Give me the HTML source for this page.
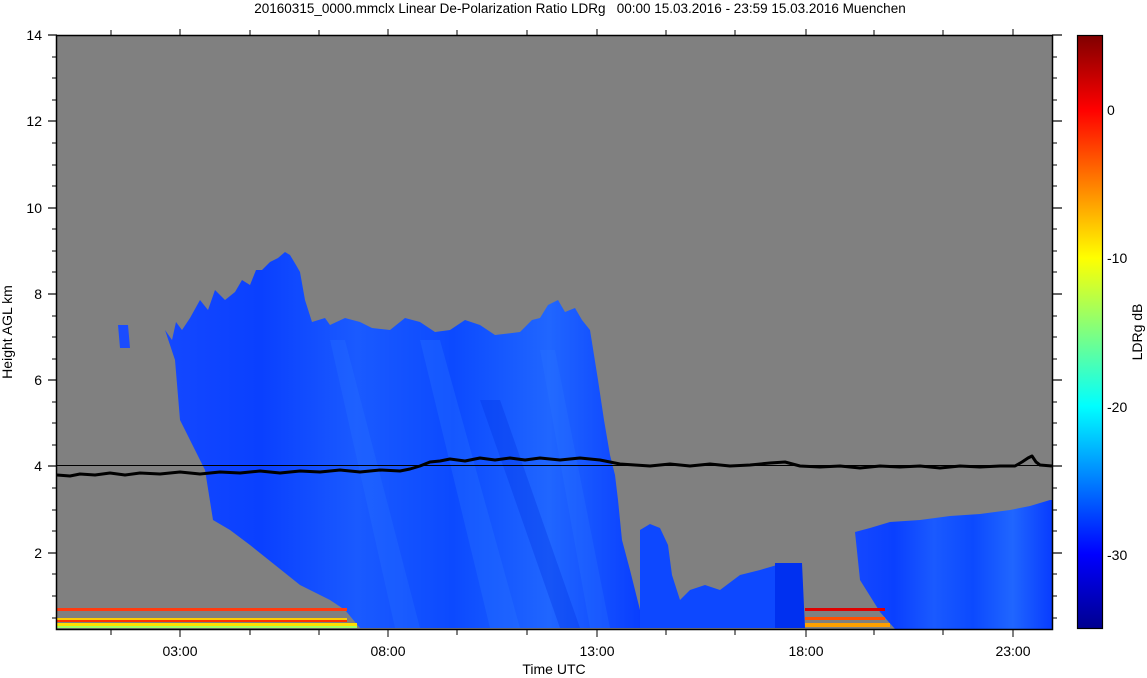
<!DOCTYPE html>
<html><head><meta charset="utf-8"><style>
html,body{margin:0;padding:0;background:#fff;}
svg{display:block;font-family:"Liberation Sans",sans-serif;}
</style></head><body>
<svg width="1147" height="678" viewBox="0 0 1147 678" xmlns="http://www.w3.org/2000/svg">
<defs>
<linearGradient id="jet" x1="0" y1="1" x2="0" y2="0">
<stop offset="0" stop-color="#00008f"/>
<stop offset="0.125" stop-color="#0000ff"/>
<stop offset="0.375" stop-color="#00ffff"/>
<stop offset="0.625" stop-color="#ffff00"/>
<stop offset="0.875" stop-color="#ff0000"/>
<stop offset="1" stop-color="#800000"/>
</linearGradient>
<linearGradient id="blu" x1="0" y1="0" x2="1" y2="0">
<stop offset="0" stop-color="#1448ff"/>
<stop offset="0.2" stop-color="#0a40ff"/>
<stop offset="0.4" stop-color="#1a5aff"/>
<stop offset="0.6" stop-color="#0c4aff"/>
<stop offset="0.8" stop-color="#2066ff"/>
<stop offset="1" stop-color="#083cff"/>
</linearGradient>
</defs>
<text x="580" y="13" font-size="13.5" text-anchor="middle" xml:space="preserve">20160315_0000.mmclx Linear De-Polarization Ratio LDRg   00:00 15.03.2016 - 23:59 15.03.2016 Muenchen</text>
<rect x="57" y="36" width="995" height="593" fill="#808080"/>
<polygon fill="url(#blu)" points="165,330 172,340 176,322 182,330 190,318 200,300 208,310 215,290 225,300 235,292 242,280 250,285 256,270 262,270 270,262 278,258 285,252 290,255 296,265 300,272 305,300 312,322 325,318 330,325 345,318 360,322 372,328 390,330 405,318 420,322 435,332 450,330 465,320 480,325 495,335 520,332 532,320 540,318 548,305 558,300 565,312 575,308 582,320 590,330 598,380 604,420 610,455 615,475 618,500 622,540 630,570 640,610 645,628 360,628 345,610 330,600 300,585 275,565 250,545 230,530 213,520 205,470 190,440 180,420 175,360"/>
<polygon fill="#2a78ff" opacity="0.3" points="420,340 440,340 520,628 490,628"/>
<polygon fill="#2a78ff" opacity="0.25" points="330,340 345,340 420,628 395,628"/>
<polygon fill="#0030e0" opacity="0.3" points="480,400 500,400 580,628 560,628"/>
<polygon fill="#2a78ff" opacity="0.25" points="540,350 555,350 610,628 590,628"/>
<polygon fill="#1a4cff" points="118,325 128,325 130,348 120,348"/>
<polygon fill="#0d48ff" points="640,530 650,524 660,528 668,545 672,575 680,600 690,590 705,585 720,590 740,575 760,570 777,565 800,565 802,628 640,628"/>
<polygon fill="#0030f0" points="775,563 802,563 805,628 775,628"/>
<polygon fill="url(#blu)" points="855,532 870,528 890,522 920,520 950,516 980,514 1010,510 1030,506 1050,500 1052,500 1052,629 895,629 880,612 860,580"/>
<rect x="57" y="608" width="290" height="3" fill="#ff3a10"/>
<rect x="57" y="618" width="290" height="4" fill="#ffcc00"/>
<rect x="57" y="620" width="290" height="2" fill="#ff3000"/>
<rect x="57" y="623" width="300" height="3" fill="#ffe000"/>
<rect x="57" y="626" width="300" height="2" fill="#a0ff60"/>
<rect x="805" y="608" width="80" height="3" fill="#e00000"/>
<rect x="805" y="617" width="80" height="3" fill="#ff5000"/>
<rect x="805" y="623" width="85" height="4" fill="#ffa000"/>
<line x1="57" y1="465.5" x2="1052" y2="465.5" stroke="#000" stroke-width="1"/>
<polyline fill="none" stroke="#000" stroke-width="3" stroke-linejoin="round" points="57,475 70,476 80,474 95,475 110,473 125,475 140,473 160,474 180,472 200,474 220,472 240,473 260,471 280,473 300,471 320,472 340,470 360,472 380,470 400,471 410,469 420,466 430,462 440,461 450,459 465,461 480,458 495,460 510,458 525,460 540,458 560,460 580,458 600,460 610,462 620,464 635,465 650,466 670,464 690,466 710,464 730,466 750,465 770,463 785,462 800,466 820,467 840,466 860,468 880,466 900,467 920,466 940,468 960,466 980,467 1000,466 1015,466 1022,462 1028,458 1032,456 1036,462 1040,465 1052,466"/>
<rect x="56.5" y="35.5" width="996" height="594" fill="none" stroke="#000" stroke-width="1.5"/>
<g stroke="#000" stroke-width="1.2">
<line x1="48" y1="35" x2="57" y2="35"/><line x1="48" y1="121" x2="57" y2="121"/><line x1="48" y1="208" x2="57" y2="208"/><line x1="48" y1="294" x2="57" y2="294"/><line x1="48" y1="380" x2="57" y2="380"/><line x1="48" y1="466" x2="57" y2="466"/><line x1="48" y1="553" x2="57" y2="553"/>
<line x1="1052" y1="35" x2="1062" y2="35"/><line x1="1052" y1="121" x2="1062" y2="121"/><line x1="1052" y1="208" x2="1062" y2="208"/><line x1="1052" y1="294" x2="1062" y2="294"/><line x1="1052" y1="380" x2="1062" y2="380"/><line x1="1052" y1="466" x2="1062" y2="466"/><line x1="1052" y1="553" x2="1062" y2="553"/>
</g>
<g stroke="#000" stroke-width="1">
<line x1="52" y1="57" x2="57" y2="57"/><line x1="52" y1="78" x2="57" y2="78"/><line x1="52" y1="100" x2="57" y2="100"/><line x1="52" y1="143" x2="57" y2="143"/><line x1="52" y1="165" x2="57" y2="165"/><line x1="52" y1="186" x2="57" y2="186"/><line x1="52" y1="229" x2="57" y2="229"/><line x1="52" y1="251" x2="57" y2="251"/><line x1="52" y1="272" x2="57" y2="272"/><line x1="52" y1="316" x2="57" y2="316"/><line x1="52" y1="337" x2="57" y2="337"/><line x1="52" y1="359" x2="57" y2="359"/><line x1="52" y1="402" x2="57" y2="402"/><line x1="52" y1="423" x2="57" y2="423"/><line x1="52" y1="445" x2="57" y2="445"/><line x1="52" y1="488" x2="57" y2="488"/><line x1="52" y1="510" x2="57" y2="510"/><line x1="52" y1="531" x2="57" y2="531"/><line x1="52" y1="574" x2="57" y2="574"/><line x1="52" y1="596" x2="57" y2="596"/><line x1="52" y1="618" x2="57" y2="618"/>
<line x1="1052" y1="57" x2="1057" y2="57"/><line x1="1052" y1="78" x2="1057" y2="78"/><line x1="1052" y1="100" x2="1057" y2="100"/><line x1="1052" y1="143" x2="1057" y2="143"/><line x1="1052" y1="165" x2="1057" y2="165"/><line x1="1052" y1="186" x2="1057" y2="186"/><line x1="1052" y1="229" x2="1057" y2="229"/><line x1="1052" y1="251" x2="1057" y2="251"/><line x1="1052" y1="272" x2="1057" y2="272"/><line x1="1052" y1="316" x2="1057" y2="316"/><line x1="1052" y1="337" x2="1057" y2="337"/><line x1="1052" y1="359" x2="1057" y2="359"/><line x1="1052" y1="402" x2="1057" y2="402"/><line x1="1052" y1="423" x2="1057" y2="423"/><line x1="1052" y1="445" x2="1057" y2="445"/><line x1="1052" y1="488" x2="1057" y2="488"/><line x1="1052" y1="510" x2="1057" y2="510"/><line x1="1052" y1="531" x2="1057" y2="531"/><line x1="1052" y1="574" x2="1057" y2="574"/><line x1="1052" y1="596" x2="1057" y2="596"/><line x1="1052" y1="618" x2="1057" y2="618"/>
<line x1="111" y1="629" x2="111" y2="635"/><line x1="180" y1="629" x2="180" y2="637"/><line x1="250" y1="629" x2="250" y2="635"/><line x1="319" y1="629" x2="319" y2="635"/><line x1="388" y1="629" x2="388" y2="637"/><line x1="457" y1="629" x2="457" y2="635"/><line x1="527" y1="629" x2="527" y2="635"/><line x1="597" y1="629" x2="597" y2="637"/><line x1="666" y1="629" x2="666" y2="635"/><line x1="735" y1="629" x2="735" y2="635"/><line x1="806" y1="629" x2="806" y2="637"/><line x1="874" y1="629" x2="874" y2="635"/><line x1="943" y1="629" x2="943" y2="635"/><line x1="1013" y1="629" x2="1013" y2="637"/>
<line x1="111" y1="30" x2="111" y2="35"/><line x1="180" y1="29" x2="180" y2="35"/><line x1="250" y1="30" x2="250" y2="35"/><line x1="319" y1="30" x2="319" y2="35"/><line x1="388" y1="29" x2="388" y2="35"/><line x1="457" y1="30" x2="457" y2="35"/><line x1="527" y1="30" x2="527" y2="35"/><line x1="597" y1="29" x2="597" y2="35"/><line x1="666" y1="30" x2="666" y2="35"/><line x1="735" y1="30" x2="735" y2="35"/><line x1="806" y1="29" x2="806" y2="35"/><line x1="874" y1="30" x2="874" y2="35"/><line x1="943" y1="30" x2="943" y2="35"/><line x1="1013" y1="29" x2="1013" y2="35"/>
</g>
<g font-size="14" text-anchor="end">
<text x="42" y="40">14</text><text x="42" y="126">12</text><text x="42" y="213">10</text><text x="42" y="299">8</text><text x="42" y="385">6</text><text x="42" y="471">4</text><text x="42" y="558">2</text>
</g>
<g font-size="14" text-anchor="middle">
<text x="180" y="656">03:00</text><text x="388" y="656">08:00</text><text x="597" y="656">13:00</text><text x="806" y="656">18:00</text><text x="1013" y="656">23:00</text>
<text x="554" y="674">Time UTC</text>
</g>
<text transform="translate(12,332) rotate(-90)" font-size="14" text-anchor="middle">Height AGL km</text>
<rect x="1077.5" y="35.5" width="25" height="593" fill="url(#jet)" stroke="#000" stroke-width="1.2"/>
<g font-size="14">
<text x="1107" y="115">0</text><text x="1107" y="263">-10</text><text x="1107" y="412">-20</text><text x="1107" y="560">-30</text>
</g>
<text transform="translate(1142,332) rotate(-90)" font-size="14" text-anchor="middle">LDRg dB</text>
</svg>
</body></html>
